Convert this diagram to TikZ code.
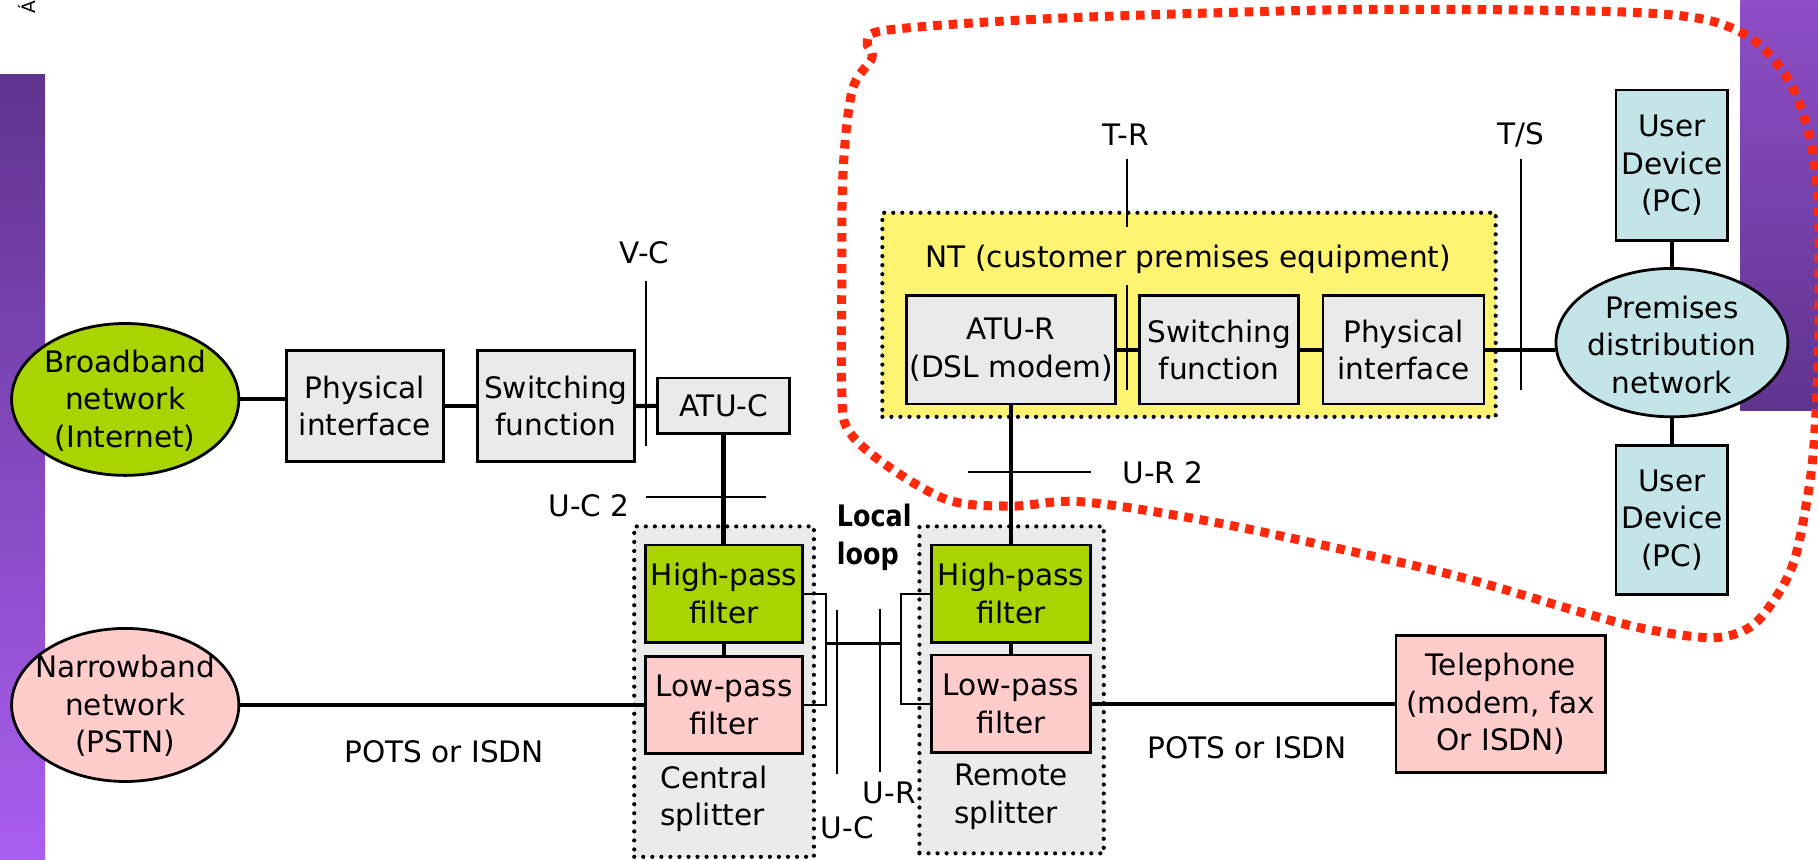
\documentclass[tikz,border=0pt]{standalone}
\usepackage{fontspec}
\setmainfont{DejaVu Sans}
\newfontfamily\locfont[FakeStretch=0.86]{DejaVu Sans}
\usetikzlibrary{shapes.geometric}
\definecolor{boxgray}{RGB}{234,234,234}
\definecolor{greenA}{RGB}{170,212,0}
\definecolor{pinkA}{RGB}{255,204,204}
\definecolor{cyanA}{RGB}{196,229,232}
\definecolor{yellowA}{RGB}{255,243,114}
\definecolor{splitgray}{RGB}{235,235,235}
\definecolor{redA}{RGB}{255,40,10}
\definecolor{purpleA}{RGB}{95,52,142}
\definecolor{purpleB}{RGB}{170,94,240}
\definecolor{purpleC}{RGB}{142,78,200}
\begin{document}
\begin{tikzpicture}[x=0.5pt,y=-0.5pt,
  font={\fontsize{12.75pt}{16.2pt}\selectfont},
  box/.style={draw, line width=1.2pt, align=center, inner sep=0pt},
  ell/.style={ellipse, draw, line width=1.2pt, inner sep=0pt},
  conn/.style={line width=1.75pt},
  thinc/.style={line width=0.9pt},
  dotbox/.style={draw, dash pattern=on 0pt off 3.9pt, line cap=round, line width=1.8pt, inner sep=0pt},
  lbl/.style={inner sep=0pt, align=center},
  reddots/.style={draw=redA, line width=3.9pt, dash pattern=on 3.7pt off 3.0pt}]
\useasboundingbox (0,0) rectangle (1568,741);
% background bars
\shade[top color=purpleA, bottom color=purpleB] (0,64) rectangle (39,741);
\shade[top color=purpleC, bottom color=purpleA] (1501,0) rectangle (1568,354);
\node[rotate=90, inner sep=0pt, font={\fontsize{8pt}{9pt}\selectfont}] (acc) at (23.5,6) {Á};
% containers
\node[dotbox, fill=splitgray, minimum width=77.5pt, minimum height=142.5pt] (csplit) at (624.5,596.5) {};
\node[dotbox, fill=splitgray, minimum width=79.5pt, minimum height=141pt] (rsplit) at (872.5,595) {};
\node[dotbox, fill=yellowA, minimum width=264.5pt, minimum height=88pt] (nt) at (1025.5,271.5) {};
\node[lbl] (ntl) at (1025,224) {NT (customer premises equipment)};
% ellipses
\node[ell, fill=greenA, minimum width=98pt, minimum height=65.5pt] (bb) at (108,344.5) {};
\node[lbl] (bbt) at (108,345.5) {Broadband\\network\\(Internet)};
\node[ell, fill=pinkA, minimum width=98pt, minimum height=66pt] (nb) at (108,608) {};
\node[lbl] (nbt) at (108,609) {Narrowband\\network\\(PSTN)};
\node[ell, fill=cyanA, minimum width=100pt, minimum height=64pt] (prem) at (1442,295.5) {};
\node[lbl] (premt) at (1442,297.5) {Premises\\distribution\\network};
% boxes
\node[box, fill=boxgray, minimum width=67.5pt, minimum height=47.75pt] (phys1) at (314.7,350.3) {Physical\\interface};
\node[box, fill=boxgray, minimum width=67.5pt, minimum height=47.75pt] (sw1) at (479.5,350.3) {Switching\\function};
\node[box, fill=boxgray, minimum width=57pt, minimum height=24pt] (atuc) at (624,350) {ATU-C};
\node[box, fill=greenA, minimum width=67.5pt, minimum height=42pt] (chpf) at (624.5,512) {High-pass\\filter};
\node[box, fill=pinkA, minimum width=67.5pt, minimum height=42pt] (clpf) at (624.5,608) {Low-pass\\filter};
\node[box, fill=greenA, minimum width=68.5pt, minimum height=42pt] (rhpf) at (872,512) {High-pass\\filter};
\node[box, fill=pinkA, minimum width=68.5pt, minimum height=42pt] (rlpf) at (872,607) {Low-pass\\filter};
\node[box, fill=pinkA, minimum width=90.5pt, minimum height=59pt] (tel) at (1294.5,607) {Telephone\\(modem, fax\\Or ISDN)};
\node[box, fill=boxgray, minimum width=90pt, minimum height=46.75pt] (atur) at (872,301.7) {ATU-R\\(DSL modem)};
\node[box, fill=boxgray, minimum width=68.5pt, minimum height=46.75pt] (sw2) at (1051.5,301.7) {Switching\\function};
\node[box, fill=boxgray, minimum width=69.5pt, minimum height=46.75pt] (phys2) at (1210.5,301.7) {Physical\\interface};
\node[box, fill=cyanA, minimum width=48.25pt, minimum height=65pt] (ud1) at (1442,142.6) {User\\Device\\(PC)};
\node[box, fill=cyanA, minimum width=48.25pt, minimum height=64.5pt] (ud2) at (1442,448.5) {User\\Device\\(PC)};
% labels
\node[lbl] (vc) at (556,218) {V-C};
\node[lbl] (uc2) at (508,436) {U-C 2};
\node[lbl] (tr) at (971,116.5) {T-R};
\node[lbl] (ts) at (1312,116.5) {T/S};
\node[lbl] (ur2) at (1003,408) {U-R 2};
\node[lbl, align=left, font={\locfont\bfseries\fontsize{12.75pt}{16.2pt}\selectfont}] (ll) at (754,463.5) {Local\\loop};
\node[lbl] (pots1) at (383,648) {POTS or ISDN};
\node[lbl] (pots2) at (1075.5,645) {POTS or ISDN};
\node[lbl, align=left] (cst) at (616,689) {Central\\splitter};
\node[lbl, align=left] (rst) at (872,687) {Remote\\splitter};
\node[lbl] (ucl) at (730.7,714) {U-C};
\node[lbl] (url) at (767,684) {U-R};
% reference points
\coordinate (vc1) at (557,242); \coordinate (vc2) at (557,385);
\coordinate (uc2a) at (557,429); \coordinate (uc2b) at (661,429);
\coordinate (ur2a) at (835,407); \coordinate (ur2b) at (941,407);
\coordinate (tra) at (971.7,137.5); \coordinate (trb) at (971.7,195.5);
\coordinate (trc) at (971.7,246); \coordinate (trd) at (971.7,336.4);
\coordinate (tsa) at (1311.5,137.5); \coordinate (tsb) at (1311.5,336);
\coordinate (uca) at (721.7,526); \coordinate (ucb) at (721.7,667.6);
\coordinate (ura) at (758.7,525); \coordinate (urb) at (758.7,665.6);
\coordinate (lm1) at (711.5,555); \coordinate (lm2) at (778,555);
% reference lines
\draw[thinc] (vc1) -- (vc2);
\draw[thinc] (uc2a) -- (uc2b);
\draw[thinc] (ur2a) -- (ur2b);
\draw[thinc] (tra) -- (trb);
\draw[thinc] (trc) -- (trd);
\draw[thinc] (tsa) -- (tsb);
\draw[thinc] (uca) -- (ucb);
\draw[thinc] (ura) -- (urb);
% connectors
\draw[conn] (bb.east) -- (bb.east -| phys1.west);
\draw[conn] (phys1) -- (sw1);
\draw[conn] (sw1) -- (atuc);
\draw[conn] (atuc.south) -- (atuc.south |- chpf.north);
\draw[conn] (chpf) -- (clpf);
\draw[conn] (nb.east) -- (nb.east -| clpf.west);
\draw[conn] (rlpf.east) -- (rlpf.east -| tel.west);
\draw[conn] (rhpf.north) -- (rhpf.north |- atur.south);
\draw[conn] (rhpf) -- (rlpf);
\draw[conn] (atur) -- (sw2);
\draw[conn] (sw2) -- (phys2);
\draw[conn] (phys2.east) -- (phys2.east -| prem.west);
\draw[conn] (prem.north) -- (ud1.south);
\draw[conn] (prem.south) -- (ud2.north);
% local loop brackets
\draw[thinc] (chpf.east) -- ++(19,0) |- (clpf.east);
\draw[thinc] (rhpf.west) -- ++(-25.5,0) |- (rlpf.west);
\draw[thinc] (lm1) -- (lm2);
% red dotted boundary
\draw[reddots] plot[smooth cycle, tension=0.55] coordinates {
 (765,26) (886,17) (1050,11) (1209,8) (1425,11.5) (1500,27) (1540,65) (1560,115)
 (1568,172) (1569,250) (1568,316) (1564,390) (1557,440) (1547,485) (1532,514.6)
 (1510,540.5) (1477.5,550) (1422,543) (1367,529) (1257,497) (1147,471.5) (1037,448.5)
 (932,432.7) (872,436.5) (817,431) (762,399.5) (731,370) (726,336) (726,250) (727,150)
 (735,78) (752,50) (748,36)};
\end{tikzpicture}
\end{document}
